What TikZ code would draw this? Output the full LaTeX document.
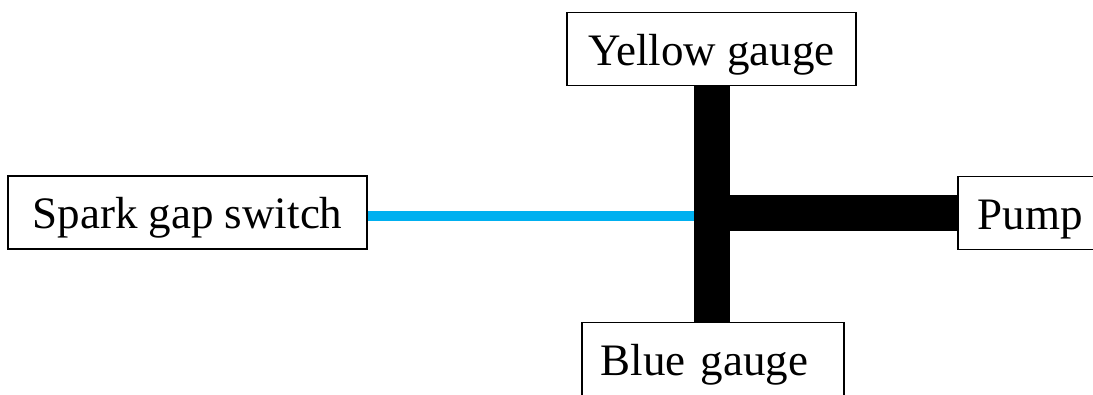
\documentclass[tikz,border=0pt]{standalone}
\usepackage{fontspec}
\setmainfont{Liberation Serif}
\begin{document}
\begin{tikzpicture}[x=1pt,y=-1pt,
  box/.style={draw=black, line width=1.5pt, fill=white, inner sep=0pt,
    minimum height=73pt, text height=32pt, text depth=0pt,
    font=\fontsize{45}{54}\selectfont},
  bar/.style={line width=36pt, black, line cap=butt},
  wire/.style={line width=10pt, color={rgb,255:red,0;green,176;blue,240}, line cap=butt}]
  \useasboundingbox (0,0) rectangle (1093,394);
  \begin{scope}
  \clip (0,0) rectangle (1093,394);
  \node[box, minimum width=359pt] (spark) at (187.5,212.5) {Spark gap switch};
  \node[box, minimum width=289pt] (yellow) at (711.5,49) {Yellow gauge};
  \node[box, anchor=west, inner xsep=20pt, text width=110pt, align=left] (pump) at (957,213) {Pump};
  \node[box, anchor=west, inner xsep=19pt, text width=224pt, align=left] (blue) at (581,359) {Blue gauge};
  \coordinate (hub) at (yellow.south |- pump.west);
  \draw[wire] ([yshift=-3pt]spark.east) -- ([yshift=-3pt]spark.east -| hub);
  \draw[bar] (yellow.south) -- (yellow.south |- blue.north);
  \draw[bar] (hub) -- (pump.west);
  \end{scope}
\end{tikzpicture}
\end{document}
